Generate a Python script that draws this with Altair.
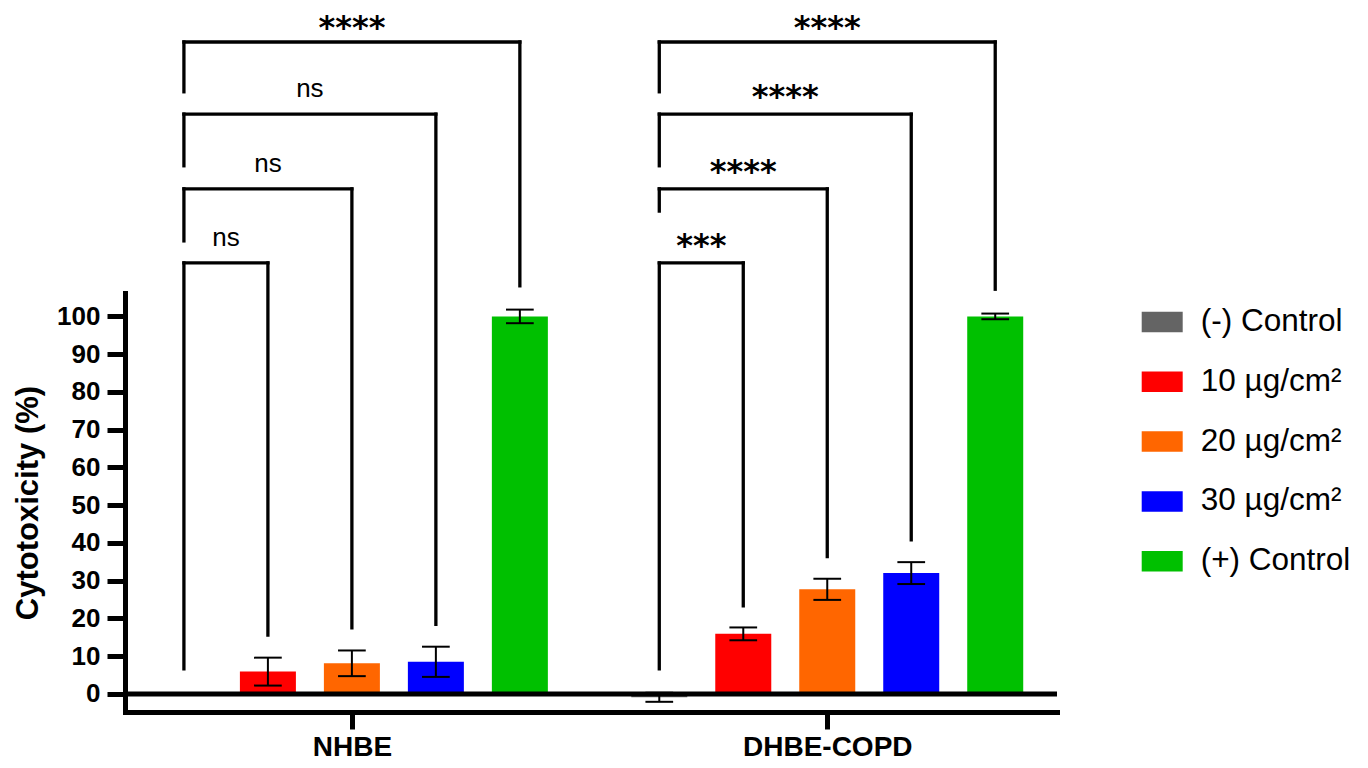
import altair as alt
import pandas as pd

# ---------------- data ----------------
groups = ["NHBE", "DHBE-COPD"]
series = ["(-) Control", "10 µg/cm²", "20 µg/cm²", "30 µg/cm²", "(+) Control"]
colors = ["#646464", "#FF0000", "#FF6600", "#0000FF", "#00C000"]

nhbe_mean = [0.0, 5.9, 8.1, 8.5, 100.0]
nhbe_err = [0.0, 3.7, 3.4, 4.0, 1.8]
dhbe_mean = [-0.9, 15.9, 27.7, 32.0, 100.0]
dhbe_err = [1.2, 1.7, 2.8, 2.9, 0.75]

# significance of each treatment vs (-) Control
nhbe_sig = ["ns", "ns", "ns", "****"]
dhbe_sig = ["***", "****", "****", "****"]
bracket_levels = [114.2, 133.8, 153.6, 172.7]
nhbe_left_end = [6.6, 120.0, 139.9, 159.5]
dhbe_left_end = [6.6, 127.9, 139.9, 159.5]
nhbe_right_end = [15.6, 17.5, 18.4, 108.1]
dhbe_right_end = [23.3, 36.4, 40.8, 107.2]

y_ticks = list(range(0, 101, 10))

# ---------------- layout constants (styles) ----------------
group_offsets = [0.0, 5.66]
X_DOMAIN = [-0.642, 10.336]
Y_DOMAIN = [-4.8, 106.2]
CAP = 0.165
W, H = 932, 419

means = [nhbe_mean, dhbe_mean]
errs = [nhbe_err, dhbe_err]
sigs = [nhbe_sig, dhbe_sig]
lefts = [nhbe_left_end, dhbe_left_end]
rights = [nhbe_right_end, dhbe_right_end]

bar_rows, seg_rows, lab_rows = [], [], []
for gi, g in enumerate(groups):
    for si, s in enumerate(series):
        p = group_offsets[gi] + si
        m, e = means[gi][si], errs[gi][si]
        bar_rows.append(dict(group=g, series=s, pos=p, mean=m, lo=m - e, hi=m + e))
    left = group_offsets[gi]
    for k in range(4):
        right = group_offsets[gi] + k + 1
        lev = bracket_levels[k]
        seg_rows.append(dict(x=left, x2=right, y=lev, y2=lev))
        seg_rows.append(dict(x=left, x2=left, y=lev, y2=lefts[gi][k]))
        seg_rows.append(dict(x=right, x2=right, y=lev, y2=rights[gi][k]))
        txt = sigs[gi][k]
        if txt == "ns":
            kind = "ns"
        elif k == len(bracket_levels) - 1:
            kind = "star_top"
        else:
            kind = "star"
        lab_rows.append(dict(x=(left + right) / 2, y=lev, text=txt, kind=kind))

bars = pd.DataFrame(bar_rows)
segs = pd.DataFrame(seg_rows)
labs = pd.DataFrame(lab_rows)

cap_rows = []
for r in bar_rows:
    if r["hi"] != r["lo"]:
        for yv in (r["lo"], r["hi"]):
            cap_rows.append(dict(x=r["pos"] - CAP, x2=r["pos"] + CAP, y=yv))
caps = pd.DataFrame(cap_rows)
errdf = bars[bars["hi"] != bars["lo"]]

group_centers = [group_offsets[i] + 2 for i in range(len(groups))]
label_expr = "datum.value < %f ? '%s' : '%s'" % (
    (group_centers[0] + group_centers[1]) / 2, groups[0], groups[1])

xscale = alt.Scale(domain=X_DOMAIN, nice=False, zero=False)
yscale = alt.Scale(domain=Y_DOMAIN, nice=False, zero=False)

xaxis = alt.Axis(values=group_centers, labelExpr=label_expr, grid=False,
                 tickSize=17, tickWidth=5, tickColor="black",
                 domainWidth=5, domainColor="black", domainCap="square",
                 labelFont="Liberation Sans", labelFontSize=28,
                 labelFontWeight="bold", labelColor="black", labelPadding=4,
                 labelFlush=False)
yaxis = alt.Axis(values=y_ticks, grid=False, tickSize=18, tickWidth=5,
                 tickColor="black", domainWidth=5, domainColor="black",
                 domainCap="square", labelFont="Liberation Sans",
                 labelFontSize=26, labelFontWeight="bold", labelColor="black",
                 labelPadding=7, titleFont="Liberation Sans", titleFontSize=31,
                 titleFontWeight="bold", titleColor="black", titlePadding=12)


def X(f):
    return alt.X(f, type="quantitative", scale=xscale, axis=xaxis, title=None)


def Y(f):
    return alt.Y(f, type="quantitative", scale=yscale, axis=yaxis,
                 title="Cytotoxicity (%)")


legend = alt.Legend(title=None, orient="none", legendX=1016.7, legendY=8.5,
                    symbolType="M-1,-0.5H1V0.5H-1Z", symbolSize=1681,
                    symbolStrokeWidth=0, symbolOpacity=1,
                    labelFont="Liberation Sans", labelFontSize=31.5,
                    labelColor="black", labelOffset=18, rowPadding=23.8,
                    padding=0)

bar_layer = alt.Chart(bars).mark_bar(size=56).encode(
    x=X("pos"), y=Y("mean"),
    color=alt.Color("series:N", scale=alt.Scale(domain=series, range=colors),
                    legend=legend))

err_layer = alt.Chart(errdf).mark_rule(color="black", strokeWidth=2).encode(
    x=X("pos"), y=Y("lo"), y2=alt.Y2("hi"))

cap_layer = alt.Chart(caps).mark_rule(color="black", strokeWidth=2).encode(
    x=X("x"), x2=alt.X2("x2"), y=Y("y"))

seg_layer = alt.Chart(segs).mark_rule(color="black", strokeWidth=3.3,
                                      strokeCap="square").encode(
    x=X("x"), x2=alt.X2("x2"), y=Y("y"), y2=alt.Y2("y2"))

ns_layer = alt.Chart(labs[labs["kind"] == "ns"]).mark_text(
    font="Liberation Sans", fontSize=26, color="black", dy=-17,
    baseline="alphabetic", align="center").encode(
    x=X("x"), y=Y("y"), text="text:N")

star_layer = alt.Chart(labs[labs["kind"] == "star"]).mark_text(
    font="DejaVu Sans", fontWeight="bold", fontSize=32, color="black", dy=-7,
    baseline="alphabetic", align="center").encode(
    x=X("x"), y=Y("y"), text="text:N")

star_top_layer = alt.Chart(labs[labs["kind"] == "star_top"]).mark_text(
    font="DejaVu Sans", fontWeight="bold", fontSize=32, color="black", dy=-4,
    baseline="alphabetic", align="center").encode(
    x=X("x"), y=Y("y"), text="text:N")

zero_layer = alt.Chart(pd.DataFrame({"z": [0.0]})).mark_rule(
    color="black", strokeWidth=5).encode(y=Y("z"))

chart = alt.layer(bar_layer, err_layer, cap_layer, seg_layer, ns_layer,
                  star_layer, star_top_layer, zero_layer).properties(
    width=W, height=H,
    background="white",
    autosize=alt.AutoSizeParams(type="none"),
    padding={"left": 117, "top": 285, "right": 303, "bottom": 48},
).configure_view(strokeWidth=0)

chart.save("out.html", embed_options={"renderer": "svg", "actions": False})
